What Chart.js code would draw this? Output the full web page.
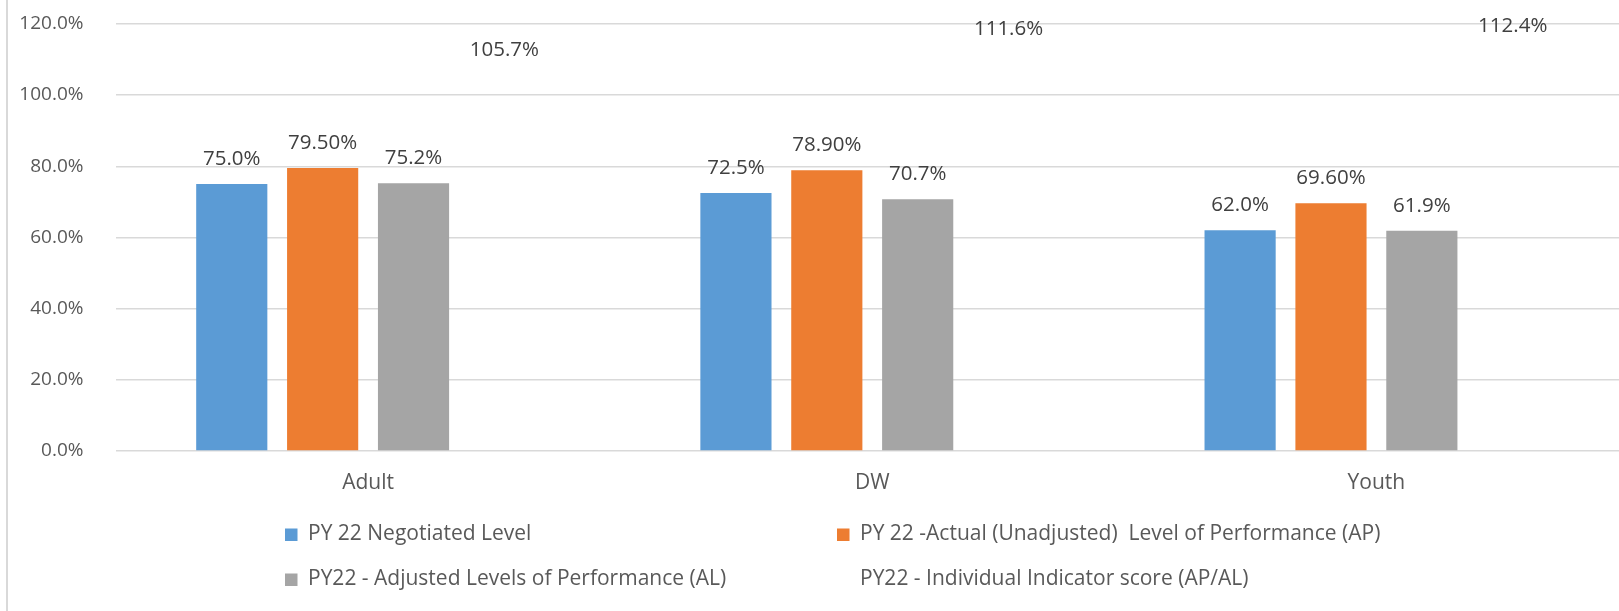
<!DOCTYPE html>
<html>
<head>
<meta charset="utf-8">
<script src="https://cdn.jsdelivr.net/npm/chart.js@4/dist/chart.umd.min.js"></script>
<style>
  html, body { margin: 0; padding: 0; background: #fff; overflow: hidden; }
  #wrap { position: relative; width: 1640px; height: 611px; overflow: hidden; }
  #border { position: absolute; left: 6px; top: 0; width: 1.5px; height: 611px; background: #d9d9d9; }
  canvas { position: absolute; left: 0; top: -20.5px; }
</style>
</head>
<body>
<div id="wrap">
  <canvas id="c" width="1640" height="632"></canvas>
  <div id="border"></div>
</div>
<script>
const categories = ["Adult", "DW", "Youth"];
const seriesNames = [
  "PY 22 Negotiated Level",
  "PY 22 -Actual (Unadjusted)  Level of Performance (AP)",
  "PY22 - Adjusted Levels of Performance (AL)",
  "PY22 - Individual Indicator score (AP/AL)"
];
const negotiated = [75.0, 72.5, 62.0];
const actual = [79.5, 78.9, 69.6];
const adjusted = [75.2, 70.7, 61.9];
const indicator = [105.7, 111.6, 112.4];
const labelDecimals = [1, 2, 1, 1];
const yTicks = [0, 20, 40, 60, 80, 100, 120];

const colors = ["#5B9BD5", "#ED7D31", "#A5A5A5", "rgba(0,0,0,0)"];
const FONT = "'Open Sans', 'Liberation Sans', sans-serif";
const SHIFT = 20.5;

const datasets = [negotiated, actual, adjusted, indicator].map((d, i) => ({
  label: seriesNames[i],
  data: d,
  backgroundColor: colors[i],
  borderWidth: 0,
  categoryPercentage: 0.721,
  barPercentage: 0.783
}));

const labelPlugin = {
  id: 'labels',
  afterDatasetsDraw(chart) {
    const ctx = chart.ctx;
    ctx.save();
    ctx.font = "20.5px " + FONT;
    ctx.fillStyle = "#404040";
    ctx.textAlign = "center";
    ctx.textBaseline = "alphabetic";
    chart.data.datasets.forEach((ds, i) => {
      const meta = chart.getDatasetMeta(i);
      meta.data.forEach((bar, j) => {
        const txt = ds.data[j].toFixed(labelDecimals[i]) + "%";
        ctx.fillText(txt, bar.x, bar.y - 19);
      });
    });
    ctx.restore();
  },
  afterDraw(chart) {
    const ctx = chart.ctx;
    const colX = [285, 837];
    const rowY = [534 + SHIFT, 579 + SHIFT];
    ctx.save();
    ctx.font = "21px " + FONT;
    ctx.textBaseline = "middle";
    ctx.textAlign = "left";
    chart.data.datasets.forEach((ds, i) => {
      const x = colX[i % 2];
      const y = rowY[Math.floor(i / 2)];
      ctx.fillStyle = ds.backgroundColor;
      ctx.fillRect(x, y - 6, 12.5, 12.5);
      ctx.fillStyle = "#595959";
      ctx.fillText(ds.label, x + 23, y);
    });
    ctx.restore();
  }
};

new Chart(document.getElementById('c'), {
  type: 'bar',
  data: { labels: categories, datasets },
  options: {
    responsive: false,
    animation: false,
    devicePixelRatio: 1,
    layout: { padding: { top: 0, bottom: 111, left: 0, right: 11.5 } },
    plugins: { legend: { display: false }, tooltip: { enabled: false } },
    scales: {
      x: {
        grid: { display: false, drawTicks: false },
        border: { display: false },
        ticks: { color: "#595959", font: { family: FONT, size: 21 }, padding: 19 },
        afterFit(s) { s.height = 50; }
      },
      y: {
        min: 0, max: 120,
        afterBuildTicks(s) { s.ticks = yTicks.map(v => ({ value: v })); },
        grid: { color: "#d9d9d9", lineWidth: 1.5, drawTicks: false },
        border: { display: false },
        ticks: {
          color: "#595959",
          font: { family: FONT, size: 19 },
          padding: 32.5,
          callback: v => v.toFixed(1) + "%"
        },
        afterFit(s) { s.width = 116; }
      }
    }
  },
  plugins: [labelPlugin]
});
</script>
</body>
</html>
